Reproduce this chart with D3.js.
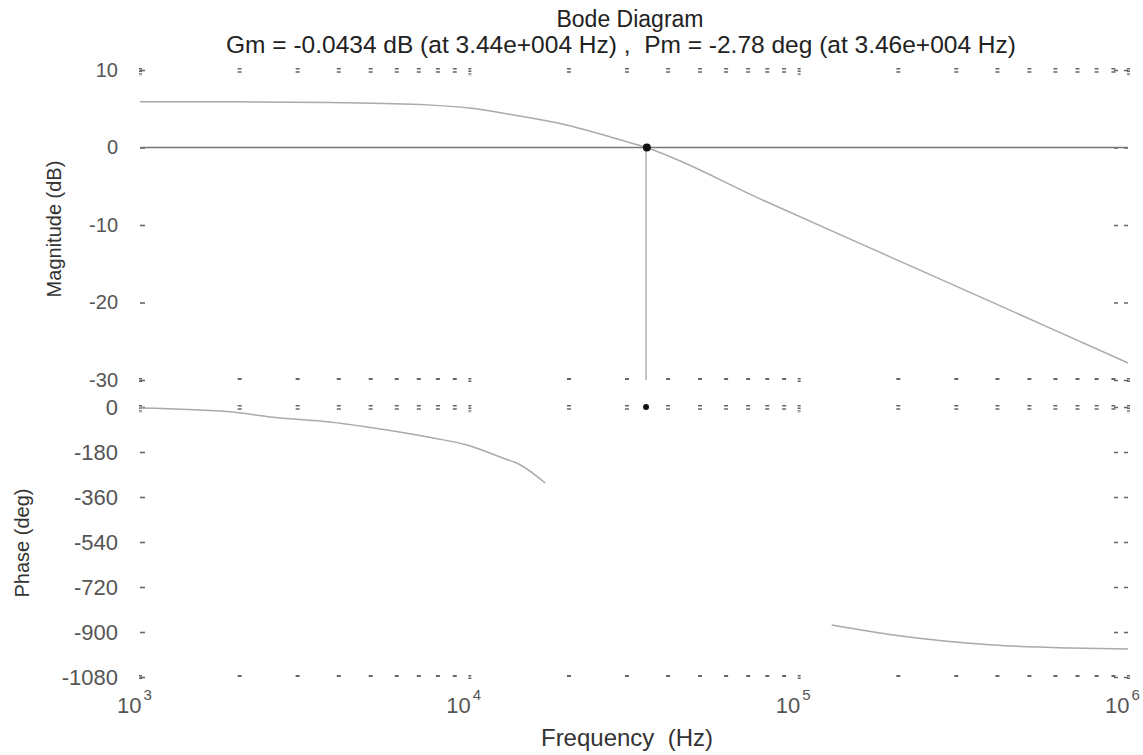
<!DOCTYPE html>
<html>
<head>
<meta charset="utf-8">
<script src="https://cdn.jsdelivr.net/npm/d3@7"></script>
<style>
  html, body { margin: 0; background: #fff; }
  svg { display: block; font-family: "Liberation Sans", Arial, sans-serif; }
</style>
</head>
<body>
<svg id="chart" width="1143" height="755"></svg>
<script>
// ---- data ----
const magFreq = [1e3, 1.91e3, 3.78e3, 7.45e3, 1.0e4, 1.36e4, 1.93e4, 2.87e4, 3.44e4, 7.8e4, 1.94e5, 5.8e5, 1e6];
const magDb   = [5.9, 5.9, 5.8, 5.5, 5.1, 4.2, 3.0, 1.0, 0, -6.8, -14.3, -23.3, -27.8];

// phase trace: only the two stretches that survived the scan
const phaseLowFreq  = [1e3, 1.91e3, 2.48e3, 3.78e3, 4.89e3, 7.77e3, 9.84e3, 1.24e4, 1.43e4, 1.70e4];
const phaseLowDeg   = [-4, -20, -40, -60, -80, -124, -152, -200, -232, -304];
const phaseHighFreq = [1.26e5, 1.94e5, 3.89e5, 6.67e5, 1e6];
const phaseHighDeg  = [-872, -912, -952, -964, -968];

const magTicks   = [10, 0, -10, -20, -30];
const phaseTicks = [0, -180, -360, -540, -720, -900, -1080];
const decadeTicks = [1e3, 1e4, 1e5, 1e6];

const gmFreq = 3.44e4, pmFreq = 3.46e4;

const titleText = 'Bode Diagram';
const subTitleText = 'Gm = -0.0434 dB (at 3.44e+004 Hz) ,  Pm = -2.78 deg (at 3.46e+004 Hz)';

// ---- layout ----
const svg = d3.select('#chart');
const left = 140, right = 1128;

const x = d3.scaleLog().domain([1e3, 1e6]).range([left, right]);
const yMag = d3.scaleLinear().domain([-30, 10]).range([380, 70]);
const yPh  = d3.scaleLinear().domain([-1080, 0]).range([677, 407]);

const minorTicks = x.ticks(); // 1..9 x 10^k

// titles
svg.append('text')
  .attr('x', 630).attr('y', 27)
  .attr('text-anchor', 'middle')
  .attr('font-size', 23).attr('fill', '#222')
  .text(titleText);
svg.append('text')
  .attr('x', 621).attr('y', 53)
  .attr('text-anchor', 'middle')
  .attr('font-size', 24.5).attr('fill', '#222')
  .attr('xml:space', 'preserve')
  .text(subTitleText);

// axis labels
svg.append('text')
  .attr('transform', 'translate(61,229) rotate(-90)')
  .attr('text-anchor', 'middle')
  .attr('font-size', 20).attr('fill', '#333')
  .text('Magnitude (dB)');
svg.append('text')
  .attr('transform', 'translate(29,543) rotate(-90)')
  .attr('text-anchor', 'middle')
  .attr('font-size', 20).attr('fill', '#333')
  .text('Phase (deg)');
svg.append('text')
  .attr('x', 627).attr('y', 746)
  .attr('text-anchor', 'middle')
  .attr('font-size', 24).attr('fill', '#333')
  .attr('xml:space', 'preserve')
  .text('Frequency  (Hz)');

// y tick labels
function yLabels(scale, vals, size) {
  const g = svg.append('g')
    .attr('transform', 'translate(118,0)')
    .call(d3.axisLeft(scale).tickValues(vals).tickSize(0).tickPadding(0)
      .tickFormat(d => String(d)));
  g.select('.domain').remove();
  g.selectAll('text')
    .attr('font-size', size)
    .attr('font-family', '"Liberation Sans", Arial, sans-serif')
    .attr('fill', '#555');
}
yLabels(yMag, magTicks, 20);
yLabels(yPh, phaseTicks, 22);

// little tick dashes on left / right edges
function yDashes(scale, vals) {
  const gl = svg.append('g')
    .attr('transform', `translate(${left},0)`)
    .call(d3.axisLeft(scale).tickValues(vals).tickSize(-5).tickFormat(''));
  const gr = svg.append('g')
    .attr('transform', `translate(${right},0)`)
    .call(d3.axisRight(scale).tickValues(vals).tickSize(-14).tickFormat(''));
  [gl, gr].forEach(g => {
    g.select('.domain').remove();
    g.selectAll('line').attr('stroke', '#666').attr('stroke-width', 1.6);
  });
  gr.selectAll('line').attr('stroke-dasharray', '4,6');
}
yDashes(yMag, magTicks);
yDashes(yPh, phaseTicks);

// minor log tick dashes along top and bottom of each panel
function xDashes(yPos, double) {
  const g = svg.append('g')
    .attr('transform', `translate(0,${yPos})`)
    .call(d3.axisBottom(x).tickValues(minorTicks).tickSize(double ? 5 : 2).tickFormat(''));
  g.select('.domain').remove();
  g.selectAll('line')
    .attr('stroke', '#666')
    .attr('stroke-width', 4)
    .attr('transform', 'translate(0,-2)')
    .attr('stroke-dasharray', double ? '1.6,1.6' : null);
  g.selectAll('.tick').filter(d => decadeTicks.includes(d)).select('line')
    .attr('y2', double ? 8 : 5)
    .attr('stroke-dasharray', '1.4,1.2')
    .attr('stroke-width', 3);
}
xDashes(yMag(10), true);
xDashes(yMag(-30), false);
xDashes(yPh(0), true);
xDashes(yPh(-1080), false);

// x tick labels 10^n
const gx = svg.append('g')
  .attr('transform', 'translate(0,713)')
  .call(d3.axisBottom(x).tickValues(decadeTicks).tickSize(0).tickFormat(''));
gx.select('.domain').remove();
gx.selectAll('.tick').each(function(d) {
  const t = d3.select(this);
  t.append('text')
    .attr('x', 1).attr('y', 0)
    .attr('text-anchor', 'end')
    .attr('font-size', 22).attr('fill', '#555')
    .text('10');
  t.append('text')
    .attr('x', 3).attr('y', -13)
    .attr('text-anchor', 'start')
    .attr('font-size', 15).attr('fill', '#555')
    .text(String(Math.round(Math.log10(d))));
});

// 0 dB reference line
svg.append('line')
  .attr('x1', x(1e3)).attr('x2', x(1e6))
  .attr('y1', yMag(0)).attr('y2', yMag(0))
  .attr('stroke', '#777').attr('stroke-width', 1.6);

// gain-margin vertical line
svg.append('line')
  .attr('x1', x(gmFreq)).attr('x2', x(gmFreq))
  .attr('y1', yMag(0)).attr('y2', yMag(-30))
  .attr('stroke', '#999').attr('stroke-width', 1.2);

// magnitude curve
const magLine = d3.line()
  .x(d => x(d[0]))
  .y(d => yMag(d[1]))
  .curve(d3.curveMonotoneX);
svg.append('path')
  .datum(magFreq.map((f, i) => [f, magDb[i]]))
  .attr('d', magLine)
  .attr('fill', 'none')
  .attr('stroke', '#aaa')
  .attr('stroke-width', 1.5);

// phase curve pieces
const phLine = d3.line()
  .x(d => x(d[0]))
  .y(d => yPh(d[1]))
  .curve(d3.curveMonotoneX);
[[phaseLowFreq, phaseLowDeg], [phaseHighFreq, phaseHighDeg]].forEach(([fs, ds]) => {
  svg.append('path')
    .datum(fs.map((f, i) => [f, ds[i]]))
    .attr('d', phLine)
    .attr('fill', 'none')
    .attr('stroke', '#aaa')
    .attr('stroke-width', 1.5);
});

// margin markers
svg.append('circle')
  .attr('cx', x(pmFreq)).attr('cy', yMag(0))
  .attr('r', 4).attr('fill', '#111');
svg.append('circle')
  .attr('cx', x(gmFreq)).attr('cy', yPh(0))
  .attr('r', 3).attr('fill', '#111');
</script>
</body>
</html>
